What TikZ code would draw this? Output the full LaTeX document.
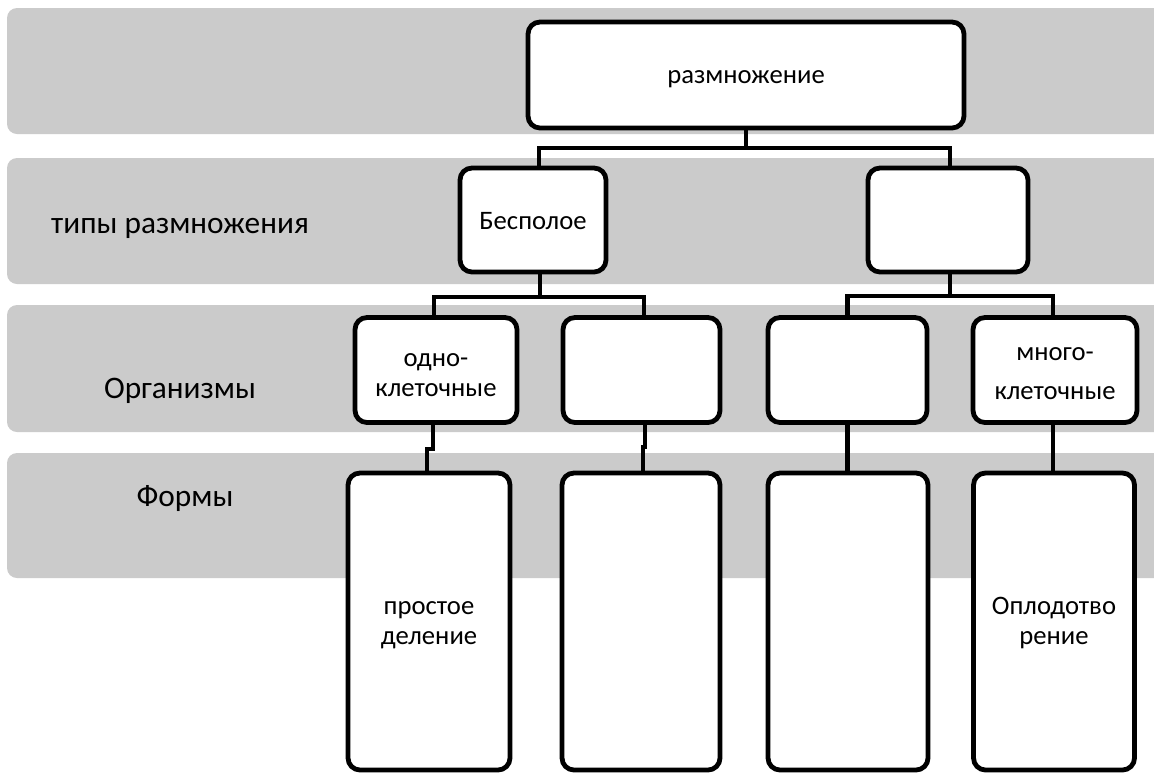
\documentclass[tikz,border=0pt]{standalone}
\usepackage{fontspec}
\setmainfont{Carlito}
\pgfdeclarelayer{bands}
\pgfdeclarelayer{links}
\pgfsetlayers{bands,links,main}
% lower a centred block of lines without changing the box it occupies
\newcommand\droplines[2]{\raisebox{-#1}[\height][\depth]{\begin{tabular}{@{}c@{}}#2\end{tabular}}}
\begin{document}
\begin{tikzpicture}[x=0.75pt,y=-0.75pt,
  band/.style={fill=bandgray,draw=none,rounded corners=7.5pt},
  box/.style={draw=black,line width=3.6pt,fill=white,rounded corners=9pt,
    inner sep=0pt,align=center,font=\fontsize{20}{22.5}\selectfont},
  wide/.style={font=\fontsize{20}{29}\selectfont},
  conn/.style={draw=black,line width=3.4pt},
  side/.style={font=\fontsize{23.5}{27}\selectfont,inner sep=0pt}]
\definecolor{bandgray}{HTML}{CBCBCB}
\useasboundingbox (0,0) rectangle (1154,772);

% grey level bands
\begin{pgfonlayer}{bands}
\fill[band] (7,8) rectangle (1180,134);
\fill[band] (7,158) rectangle (1180,284);
\fill[band] (7,305) rectangle (1180,432);
\fill[band] (7,453) rectangle (1180,578);
\end{pgfonlayer}

% level captions
\node[side] (lt) at (180,228) {типы размножения};
\node[side] (lo) at (180,391) {Организмы};
\node[side] (lf) at (185,499) {Формы};

% root
\node[box,minimum width=436*0.75pt,minimum height=106*0.75pt] (top) at (746,75)
  {\droplines{1.5pt}{размножение}};

% reproduction types
\node[box,minimum width=146*0.75pt,minimum height=104*0.75pt] (ase) at (533,220)
  {\droplines{2.25pt}{Бесполое}};
\node[box,minimum width=160*0.75pt,minimum height=104*0.75pt] (sex) at (948,220) {};

% organisms
\node[box,minimum width=162*0.75pt,minimum height=105*0.75pt] (o1) at (436,370)
  {\droplines{3.75pt}{одно-\\клеточные}};
\node[box,minimum width=157*0.75pt,minimum height=105*0.75pt] (o2) at (641.5,370) {};
\node[box,minimum width=159*0.75pt,minimum height=105*0.75pt] (o3) at (847.5,370) {};
\node[box,wide,minimum width=164*0.75pt,minimum height=105*0.75pt] (o4) at (1055,370)
  {\droplines{1.5pt}{много-\\клеточные}};

% forms
\node[box,minimum width=162*0.75pt,minimum height=297*0.75pt] (f1) at (429,621.5)
  {\droplines{1.5pt}{простое\\деление}};
\node[box,minimum width=158*0.75pt,minimum height=297*0.75pt] (f2) at (641,621.5) {};
\node[box,minimum width=160*0.75pt,minimum height=297*0.75pt] (f3) at (848,621.5) {};
\node[box,minimum width=161*0.75pt,minimum height=297*0.75pt] (f4) at (1054,621.5)
  {\droplines{1.5pt}{Оплодотво\\рение}};

\begin{pgfonlayer}{links}
% root -> types
\coordinate (b1) at (746,148);
\draw[conn] (top.south) -- (b1);
\draw[conn] ([xshift=4.5pt]ase.north) |- (b1) -| ([xshift=1.5pt]sex.north);

% asexual -> organisms
\coordinate (b2) at (540,297);
\draw[conn] ([xshift=5.25pt]ase.south) -- (b2);
\draw[conn] ([xshift=-1.5pt]o1.north) |- (b2) -| ([xshift=1.875pt]o2.north);

% sexual -> organisms
\coordinate (b3) at (950,296);
\draw[conn] ([xshift=1.5pt]sex.south) -- (b3);
\draw[conn] (o3.north) |- (b3) -| ([xshift=-1.5pt]o4.north);

% organisms -> forms
\draw[conn] ([xshift=-2.25pt]o1.south) -- ++(0,24) -| ([xshift=-1.5pt]f1.north);
\draw[conn] ([xshift=2.6pt]o2.south) -- ++(0,22) -| ([xshift=1.5pt]f2.north);
\draw[conn] (o3.south) -- (o3.south |- f3.north);
\draw[conn] ([xshift=-1.5pt]o4.south) coordinate (o4d) -- (o4d |- f4.north);
\end{pgfonlayer}
\end{tikzpicture}
\end{document}
